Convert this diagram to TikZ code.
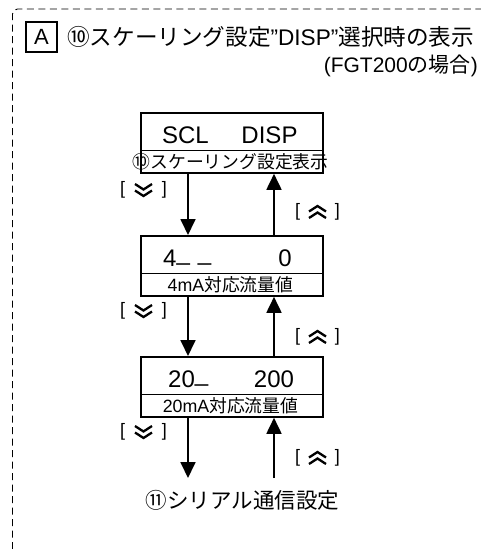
\documentclass[tikz,border=0pt]{standalone}
\usepackage{fontspec}
\setmainfont{Liberation Sans}
\newfontfamily\jp{Noto Sans CJK JP}
\usetikzlibrary{arrows.meta}
\newcommand\ul{\raisebox{6pt}{\_}}
\begin{document}
\begin{tikzpicture}[x=1pt,y=-1pt,
  box/.style={draw,line width=1.8pt,minimum width=182pt,minimum height=60pt,inner sep=0,anchor=north west},
  divider/.style={line width=0.9pt},
  arr/.style={line width=1.8pt,-{Triangle[width=15pt,length=16pt]}},
  big/.style={inner sep=0,anchor=base,font=\fontsize{24}{24}\selectfont},
  small/.style={inner sep=0,anchor=base,font=\fontsize{17.8}{17.8}\selectfont},
  lbl/.style={inner sep=0,font=\fontsize{18}{18}\selectfont},
  dnchev/.pic={\draw[line width=2.3pt] (-8.5,-6) -- (0,-0.5) -- (8.5,-6);
               \draw[line width=2.3pt] (-8.5,0.5) -- (0,6) -- (8.5,0.5);},
  upchev/.pic={\draw[line width=2.3pt] (-8.5,6) -- (0,0.5) -- (8.5,6);
               \draw[line width=2.3pt] (-8.5,-0.5) -- (0,-6) -- (8.5,-0.5);}
]
\useasboundingbox (0,0) rectangle (481,549);
% frame
\draw[line width=0.9pt,dash pattern=on 7pt off 4.5pt,rounded corners=5pt] (12.5,549) -- (12.5,9) -- (481,9);
% header
\node[draw,line width=1.6pt,minimum width=31pt,minimum height=30pt,inner sep=0,font=\fontsize{22}{22}\selectfont] (boxa) at (41.5,37) {A};
\node[anchor=base west,inner sep=0,font=\fontsize{22.6}{22.6}\selectfont] (title) at (67,45) {{\jp ⑩スケーリング設定}”DISP”{\jp 選択時の表示}};
\node[anchor=base east,inner sep=0,font=\fontsize{21}{21}\selectfont] (sub) at (478,72) {(FGT200{\jp の場合})};
% boxes
\node[box] (b1) at (140,112) {};
\node[box] (b2) at (140,235) {};
\node[box] (b3) at (140,356) {};
\foreach \b in {b1,b2,b3}
  \draw[divider] ([yshift=-38pt]\b.north west) -- ([yshift=-38pt]\b.north east);
% box texts
\node[big] (t1a) at (185.5,143) {SCL};
\node[big] (t1b) at (269.5,143) {DISP};
\node[small] (t1c) at (230.5,168) {\jp ⑩スケーリング設定表示};
\node[big,anchor=base west] (t2a) at (163,266) {4\ul\hspace{8pt}\ul};
\node[big] (t2b) at (285,266) {0};
\node[small] (t2c) at (230.5,291.5) {4mA{\jp 対応流量値}};
\node[big,anchor=base west] (t3a) at (168,387) {20\ul};
\node[big] (t3b) at (274,387) {200};
\node[small] (t3c) at (230.5,412.5) {20mA{\jp 対応流量値}};
% arrows
\coordinate (dx) at (188,0);
\coordinate (ux) at (274,0);
\coordinate (end1) at (188,478);
\coordinate (start2) at (274,478);
\draw[arr] (b1.south -| dx) -- (b2.north -| dx);
\draw[arr] (b2.north -| ux) -- (b1.south -| ux);
\draw[arr] (b2.south -| dx) -- (b3.north -| dx);
\draw[arr] (b3.north -| ux) -- (b2.south -| ux);
\draw[arr] (b3.south -| dx) -- (end1);
\draw[arr] (start2) -- (b3.south -| ux);
% key labels
\node[lbl] (d1) at (143.5,190) {\makebox[47pt]{[\hfill]}};
\node[lbl] (d2) at (143.5,311) {\makebox[47pt]{[\hfill]}};
\node[lbl] (d3) at (143.5,432) {\makebox[47pt]{[\hfill]}};
\node[lbl] (u1) at (317.5,212) {\makebox[45pt]{[\hfill]}};
\node[lbl] (u2) at (317.5,337) {\makebox[45pt]{[\hfill]}};
\node[lbl] (u3) at (317.5,458) {\makebox[45pt]{[\hfill]}};
\foreach \n in {d1,d2,d3} \pic at (\n.center) {dnchev};
\foreach \n in {u1,u2,u3} \pic at (\n.center) {upchev};
% next item
\node[anchor=base,inner sep=0,font=\fontsize{21.5}{21.5}\selectfont\jp] (next) at (242.5,508) {⑪シリアル通信設定};
\end{tikzpicture}
\end{document}
